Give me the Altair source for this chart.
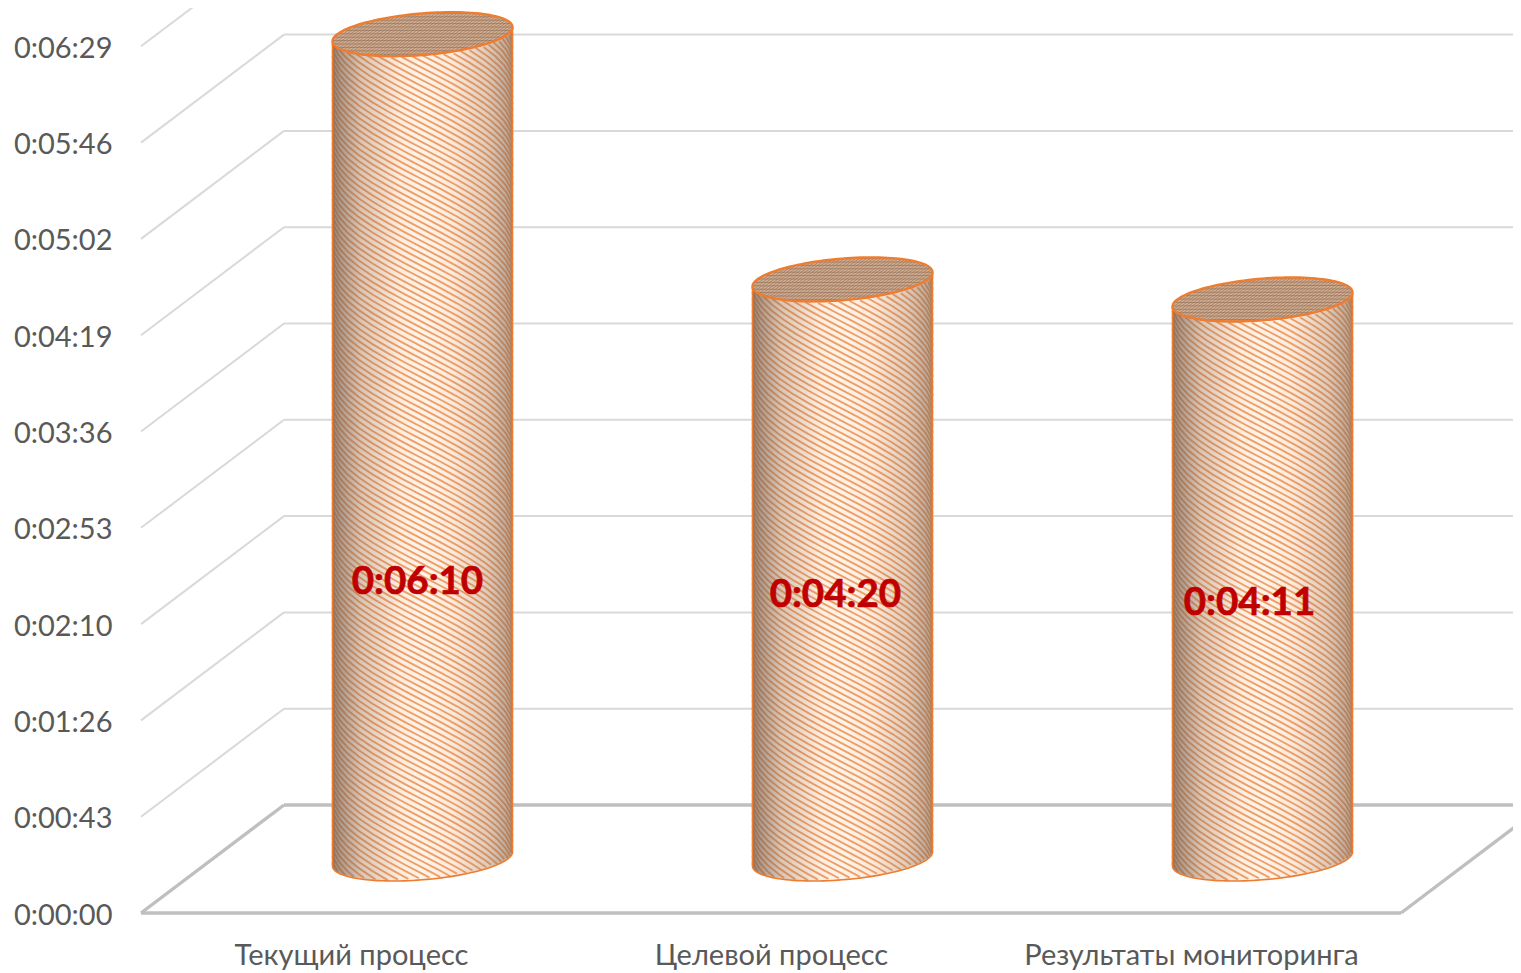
import math
import numpy as np
import pandas as pd
import altair as alt

# ---- chart values -------------------------------------------------------
categories = ["Текущий процесс", "Целевой процесс", "Результаты мониторинга"]
values_sec = [370, 260, 251]
value_labels = ["0:06:10", "0:04:20", "0:04:11"]
label_heights = [149.4, 143.5, 139.9]      # seconds on the axis where the data label sits
label_shift = [-0.012, -0.017, -0.031]     # category units
tick_seconds = [0, 43.2, 86.4, 129.6, 172.8, 216, 259.2, 302.4, 345.6, 388.8]
tick_labels = ["0:00:00", "0:00:43", "0:01:26", "0:02:10", "0:02:53",
               "0:03:36", "0:04:19", "0:05:02", "0:05:46", "0:06:29"]

# ---- geometry ------------------------------------------------------------
PAD_L, PAD_B = 4, 6         # extra plot room so the floor lines are not clipped
PLOT_W, PLOT_H = 1372 + PAD_L, 905 + PAD_B
PX_X = 420.0                # px per category
PX_Y = 96.3 / 43.2          # px per second
DEPTH_X, DEPTH_Y = 143.0, 108.0
RX, DY, PHI = 90.0, 22.0, math.atan(29 / 85)
BASE_X, BASE_Y = 71.5, 54.0

FONT = "Lato"
TXT = "#595959"
y_expr = "{" + ",".join(f"'{t}':'{l}'" for t, l in zip(tick_seconds, tick_labels)) + "}[datum.value]"
x_expr = "[" + ",".join(f"'{c}'" for c in categories) + "][floor(datum.value)]"
x_axis = alt.Axis(values=[0.5, 1.5, 2.5], labelExpr=x_expr, grid=False, domain=False, ticks=False,
                  labelFont=FONT, labelFontSize=29, labelColor=TXT, labelPadding=22, labelFlush=False,
                  labelOverlap=False, labelLimit=600, title=None)
y_axis = alt.Axis(values=tick_seconds, labelExpr=y_expr, grid=False, domain=False, ticks=False,
                  labelFont=FONT, labelFontSize=29, labelColor=TXT, labelPadding=25, labelOffset=2,
                  labelOverlap=False, title=None)

x_scale = alt.Scale(domain=[-PAD_L / PX_X, (PLOT_W - PAD_L) / PX_X], nice=False, zero=False)
y_scale = alt.Scale(domain=[-PAD_B / PX_Y, (PLOT_H - PAD_B) / PX_Y], nice=False, zero=False)
X = lambda f="x": alt.X(f"{f}:Q", scale=x_scale, axis=x_axis)
Y = lambda f="y": alt.Y(f"{f}:Q", scale=y_scale, axis=y_axis)


def px(i, dx, value, dy):
    """category index / value + pixel offset from the cylinder's base centre"""
    return (i + 0.5 + (BASE_X + dx) / PX_X, value + (BASE_Y + dy) / PX_Y)


def arc(s):
    return DY * math.sin(s + PHI)


# ---- walls and floor -----------------------------------------------------
dx_c, dy_c = DEPTH_X / PX_X, DEPTH_Y / PX_Y
xmax = 3 + dx_c
grid = []
for t in tick_seconds[1:]:
    grid.append(dict(x=0, x2=dx_c, y=t, y2=t + dy_c))
    if t + dy_c < (PLOT_H - PAD_B) / PX_Y:
        grid.append(dict(x=dx_c, x2=xmax, y=t + dy_c, y2=t + dy_c))
floor = [
    dict(x=0, x2=3, y=0, y2=0),
    dict(x=0, x2=dx_c, y=0, y2=dy_c),
    dict(x=dx_c, x2=xmax, y=dy_c, y2=dy_c),
    dict(x=3, x2=xmax, y=0, y2=dy_c),
]

# ---- cylinders -----------------------------------------------------------
body, top, hatch, top_tex = [], [], [], []
M, SPACING = 0.52, 6.2
line_id = 0
for i, v in enumerate(values_sec):
    H = v * PX_Y
    for s in np.linspace(math.pi, 2 * math.pi, 61):
        dx = RX * math.cos(s)
        x, y = px(i, dx, v, arc(s))
        _, y2 = px(i, dx, 0, arc(s))
        body.append(dict(cat=i, x=x, y=y, y2=y2))
        _, yt = px(i, dx, v, arc(-s))
        top.append(dict(cat=i, x=x, y=yt, y2=y))
    # wrapped diagonal stripes
    alphas = np.linspace(-math.pi / 2, math.pi / 2, 81)
    reach = M * RX * math.pi / 2
    for y0 in np.arange(-DY - reach, H + DY + reach, SPACING):
        pts = []
        for a in alphas:
            up = y0 - M * RX * a
            c = arc(1.5 * math.pi + a)
            if c <= up <= H + c:
                pts.append((RX * math.sin(a), up))
        if len(pts) < 2:
            continue
        keep = pts[::5] + [pts[-1]]
        for order, (dx, up) in enumerate(keep):
            x, y = px(i, dx, 0, up)
            hatch.append(dict(id=line_id, o=order, x=x, y=y))
        line_id += 1
    # woven texture of the lid
    for row in np.arange(-DY + 2, DY, 3.4):
        half = 85 * math.sqrt(max(0, 1 - (row / DY) ** 2))
        sx = row * 29 / DY
        x1, y1 = px(i, sx - half, v, row)
        x2, y2 = px(i, sx + half, v, row)
        top_tex.append(dict(x=x1, x2=x2, y=y1, y2=y2))
    for col in np.arange(-83, 85, 3.6):
        h = DY * math.sqrt(max(0, 1 - (col / 85) ** 2))
        x1, y1 = px(i, col - h * 29 / DY, v, -h)
        x2, y2 = px(i, col + h * 29 / DY, v, h)
        top_tex.append(dict(x=x1, x2=x2, y=y1, y2=y2))

labels = pd.DataFrame({
    "x": [i + 0.5 + BASE_X / PX_X + s for i, s in enumerate(label_shift)],
    "y": label_heights,
    "t": value_labels,
})


def rules(rows, **mark):
    return alt.Chart(pd.DataFrame(rows)).mark_rule(clip=True, **mark).encode(
        x=X(), x2="x2:Q", y=Y(), y2="y2:Q")


grid_layer = rules(grid, color="#d9d9d9", strokeWidth=2)
floor_layer = rules(floor, color="#bfbfbf", strokeWidth=3.4)

base_fill = alt.Gradient(gradient="linear", x1=0, x2=1, y1=0, y2=0, stops=[
    alt.GradientStop(offset=0, color="#f6dcc8"),
    alt.GradientStop(offset=0.5, color="#fff3e8"),
    alt.GradientStop(offset=1, color="#f6dcc8"),
])
shade_fill = alt.Gradient(gradient="linear", x1=0, x2=1, y1=0, y2=0, stops=[
    alt.GradientStop(offset=0, color="rgba(90,80,75,0.58)"),
    alt.GradientStop(offset=0.16, color="rgba(90,80,75,0.2)"),
    alt.GradientStop(offset=0.38, color="rgba(90,80,75,0)"),
    alt.GradientStop(offset=0.66, color="rgba(90,80,75,0)"),
    alt.GradientStop(offset=0.86, color="rgba(90,80,75,0.16)"),
    alt.GradientStop(offset=1, color="rgba(90,80,75,0.42)"),
])


def area(rows, **mark):
    return alt.Chart(pd.DataFrame(rows)).mark_area(clip=True, **mark).encode(
        x=X(), y=Y(), y2="y2:Q", detail="cat:N")


body_base = area(body, fill=base_fill)
hatch_layer = alt.Chart(pd.DataFrame(hatch)).mark_line(clip=True, color="#ec9f68", strokeWidth=1.9).encode(
    x=X(), y=Y(), detail="id:N", order="o:Q")
body_shade = area(body, fill=shade_fill)
body_edge = area(body, fill="transparent", stroke="#ed7d31", strokeWidth=1.6)
lid = area(top, fill="#d2ae92")
lid_tex = rules(top_tex, color="#7d5a45", strokeWidth=0.9, opacity=0.5)
lid_edge = area(top, fill="transparent", stroke="#ed7d31", strokeWidth=2.4)

text = alt.Chart(labels).mark_text(font=FONT, fontWeight="bold", fontSize=38.5, color="#c00000",
                                   stroke="#c00000", strokeWidth=0.7, dy=2,
                                   baseline="middle", align="center").encode(
    x=X(), y=Y(), text="t:N")

chart = alt.layer(grid_layer, floor_layer, body_base, hatch_layer, body_shade, body_edge,
                  lid, lid_tex, lid_edge, text).properties(
    width=PLOT_W, height=PLOT_H,
    autosize=alt.AutoSizeParams(type="none"),
    padding={"left": 133 - PAD_L, "top": 0, "right": 0, "bottom": 57 - PAD_B},
).configure_view(stroke=None)

chart.save("out.html", embed_options={"renderer": "svg", "actions": False})
